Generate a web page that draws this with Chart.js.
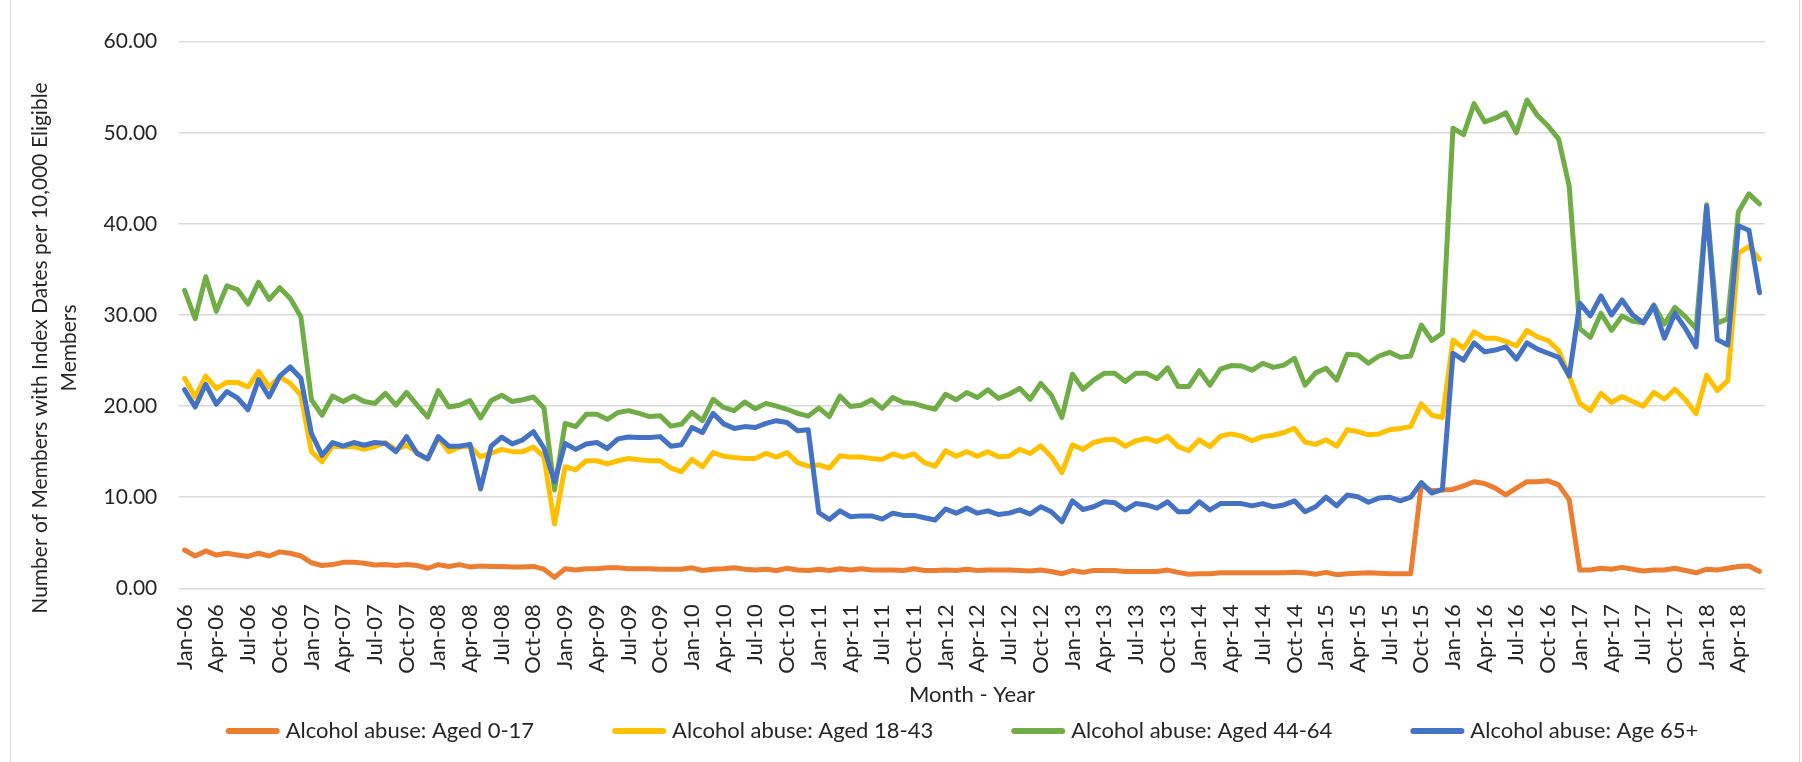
<!DOCTYPE html>
<html>
<head>
<meta charset="utf-8">
<script src="https://cdn.jsdelivr.net/npm/chart.js"></script>
<style>
  body { margin: 0; background: #fff; }
  #wrap { width: 1802px; height: 762px; position: relative; }
</style>
</head>
<body>
<div id="wrap"><canvas id="chart"></canvas></div>
<script>
// month labels Jan-06 .. Jun-18, one category per month
var monthNames = ['Jan', 'Feb', 'Mar', 'Apr', 'May', 'Jun', 'Jul', 'Aug', 'Sep', 'Oct', 'Nov', 'Dec'];
var years = ['06', '07', '08', '09', '10', '11', '12', '13', '14', '15', '16', '17', '18'];
var lastMonthIndex = 5; // Jun-18

var seriesNames = ['Alcohol abuse: Aged 0-17', 'Alcohol abuse: Aged 18-43', 'Alcohol abuse: Aged 44-64', 'Alcohol abuse: Age 65+'];

var aged0to17 = [4.2, 3.55, 4.1, 3.65, 3.85, 3.65, 3.5, 3.85, 3.55, 4.0, 3.85, 3.55,
  2.8, 2.5, 2.6, 2.85, 2.85, 2.75, 2.55, 2.6, 2.5, 2.6, 2.5, 2.2,
  2.6, 2.4, 2.6, 2.35, 2.45, 2.4, 2.4, 2.35, 2.35, 2.4, 2.1, 1.2,
  2.15, 2.0, 2.15, 2.15, 2.25, 2.25, 2.15, 2.15, 2.15, 2.1, 2.1, 2.1,
  2.25, 1.95, 2.1, 2.15, 2.25, 2.1, 2.0, 2.1, 1.95, 2.2, 2.0, 1.95,
  2.1, 1.95, 2.15, 2.0, 2.15, 2.0, 2.0, 2.0, 1.95, 2.15, 1.95, 1.95,
  2.0, 1.95, 2.1, 1.95, 2.0, 2.0, 2.0, 1.95, 1.9, 2.0, 1.85, 1.6,
  1.95, 1.75, 1.95, 1.95, 1.95, 1.85, 1.85, 1.85, 1.85, 2.0, 1.75, 1.55,
  1.6, 1.6, 1.7, 1.7, 1.7, 1.7, 1.7, 1.7, 1.7, 1.75, 1.7, 1.55,
  1.75, 1.5, 1.6, 1.65, 1.7, 1.65, 1.6, 1.6, 1.6, 11.35, 10.7, 10.8,
  10.85, 11.25, 11.7, 11.5, 11.0, 10.25, 11.0, 11.7, 11.7, 11.8, 11.35, 9.7,
  2.0, 2.0, 2.2, 2.1, 2.3, 2.1, 1.9, 2.0, 2.0, 2.2, 1.95, 1.7,
  2.1, 2.0, 2.2, 2.4, 2.45, 1.85];

var aged18to43 = [23.05, 21.0, 23.3, 21.95, 22.6, 22.6, 22.1, 23.8, 22.1, 23.2, 22.5, 21.2,
  15.0, 13.9, 15.6, 15.55, 15.55, 15.25, 15.55, 16.0, 15.2, 15.7, 14.9, 14.2,
  16.5, 15.0, 15.5, 15.6, 14.45, 14.8, 15.25, 15.0, 15.0, 15.5, 14.45, 7.05,
  13.35, 13.0, 14.0, 14.0, 13.65, 14.0, 14.25, 14.1, 14.0, 14.0, 13.2, 12.8,
  14.15, 13.35, 14.9, 14.5, 14.35, 14.25, 14.25, 14.8, 14.4, 14.9, 13.8, 13.4,
  13.55, 13.2, 14.55, 14.4, 14.4, 14.25, 14.15, 14.75, 14.4, 14.75, 13.8, 13.4,
  15.1, 14.5, 15.0, 14.5, 15.0, 14.45, 14.5, 15.25, 14.8, 15.65, 14.45, 12.7,
  15.75, 15.25, 16.0, 16.3, 16.35, 15.6, 16.2, 16.45, 16.1, 16.7, 15.55, 15.1,
  16.3, 15.55, 16.7, 16.95, 16.7, 16.2, 16.65, 16.8, 17.1, 17.55, 16.05, 15.8,
  16.3, 15.6, 17.4, 17.2, 16.85, 16.95, 17.4, 17.55, 17.75, 20.25, 19.0, 18.75,
  27.25, 26.35, 28.15, 27.45, 27.45, 27.1, 26.6, 28.3, 27.6, 27.2, 26.1, 23.3,
  20.3, 19.5, 21.4, 20.4, 21.05, 20.5, 20.0, 21.5, 20.75, 21.85, 20.7, 19.15,
  23.4, 21.7, 22.8, 36.8, 37.5, 36.1];

var aged44to64 = [32.7, 29.6, 34.2, 30.4, 33.2, 32.8, 31.2, 33.6, 31.7, 33.0, 31.8, 29.8,
  20.7, 19.0, 21.1, 20.5, 21.1, 20.5, 20.3, 21.4, 20.1, 21.5, 20.1, 18.8,
  21.7, 19.9, 20.1, 20.6, 18.7, 20.6, 21.2, 20.5, 20.7, 21.0, 19.8, 10.8,
  18.1, 17.75, 19.1, 19.1, 18.55, 19.3, 19.5, 19.2, 18.85, 18.95, 17.8, 18.0,
  19.3, 18.4, 20.75, 19.85, 19.5, 20.45, 19.7, 20.3, 20.0, 19.65, 19.2, 18.9,
  19.8, 18.85, 21.1, 19.95, 20.1, 20.7, 19.75, 20.95, 20.4, 20.3, 19.95, 19.65,
  21.3, 20.7, 21.5, 20.95, 21.8, 20.85, 21.3, 21.95, 20.75, 22.5, 21.2, 18.75,
  23.5, 21.85, 22.85, 23.6, 23.6, 22.7, 23.6, 23.6, 23.0, 24.2, 22.15, 22.15,
  23.9, 22.3, 24.05, 24.45, 24.4, 23.95, 24.7, 24.25, 24.5, 25.25, 22.3, 23.65,
  24.15, 22.85, 25.7, 25.6, 24.7, 25.5, 25.9, 25.35, 25.5, 28.9, 27.2, 28.0,
  50.5, 49.8, 53.2, 51.2, 51.6, 52.2, 50.0, 53.6, 51.9, 50.75, 49.3, 44.1,
  28.5, 27.55, 30.2, 28.3, 29.9, 29.3, 29.15, 31.1, 29.0, 30.85, 29.8, 28.5,
  42.1, 29.1, 29.6, 41.3, 43.3, 42.2];

var age65plus = [21.8, 19.9, 22.4, 20.2, 21.6, 20.9, 19.6, 22.9, 21.0, 23.3, 24.3, 23.05,
  17.0, 14.6, 16.0, 15.6, 16.0, 15.7, 16.0, 15.9, 15.0, 16.65, 14.8, 14.2,
  16.65, 15.6, 15.6, 15.8, 10.9, 15.6, 16.6, 15.85, 16.3, 17.2, 15.4, 11.7,
  15.9, 15.25, 15.85, 16.0, 15.35, 16.4, 16.6, 16.55, 16.55, 16.65, 15.6, 15.75,
  17.65, 17.1, 19.2, 18.05, 17.55, 17.75, 17.65, 18.1, 18.4, 18.2, 17.3, 17.4,
  8.3, 7.55, 8.5, 7.85, 7.95, 7.95, 7.6, 8.25, 8.0, 8.0, 7.75, 7.5,
  8.7, 8.25, 8.8, 8.25, 8.5, 8.1, 8.25, 8.6, 8.15, 8.95, 8.4, 7.3,
  9.6, 8.65, 8.95, 9.5, 9.4, 8.6, 9.3, 9.15, 8.8, 9.5, 8.4, 8.4,
  9.5, 8.6, 9.3, 9.3, 9.3, 9.05, 9.3, 8.95, 9.15, 9.6, 8.4, 8.95,
  10.0, 9.05, 10.25, 10.05, 9.45, 9.9, 10.0, 9.6, 10.0, 11.6, 10.45, 10.85,
  25.8, 25.05, 26.95, 25.95, 26.15, 26.5, 25.15, 26.95, 26.25, 25.8, 25.35, 23.3,
  31.3, 29.9, 32.1, 30.0, 31.65, 30.0, 29.15, 31.0, 27.45, 30.2, 28.5, 26.5,
  41.9, 27.3, 26.7, 39.8, 39.3, 32.45];

var seriesColors = ['#ED7D31', '#FFC000', '#70AD47', '#4472C4'];
var yTicks = [0, 10, 20, 30, 40, 50, 60];
var yTitle = ['Number of Members with Index Dates per 10,000 Eligible', 'Members'];
var xTitle = 'Month - Year';

var months = [];
for (var y = 0; y < years.length; y++) {
  for (var m = 0; m < 12; m++) {
    if (y === years.length - 1 && m > lastMonthIndex) break;
    months.push(monthNames[m] + '-' + years[y]);
  }
}

var textColor = '#262626';
var fontName = 'Lato';

// y title and legend are drawn here so they can sit where Excel put them
var extras = {
  id: 'extras',
  afterDraw: function(chart) {
    var ctx = chart.ctx;
    ctx.save();
    ctx.strokeStyle = '#d9d9d9';
    ctx.lineWidth = 1;
    ctx.beginPath();
    ctx.moveTo(10.5, 0); ctx.lineTo(10.5, 762);
    ctx.moveTo(1799.5, 0); ctx.lineTo(1799.5, 762);
    ctx.stroke();

    ctx.fillStyle = textColor;
    ctx.font = '21px ' + fontName;
    ctx.textAlign = 'center';
    ctx.textBaseline = 'middle';
    ctx.save();
    ctx.translate(40, 348);
    ctx.rotate(-Math.PI / 2);
    ctx.fillText(yTitle[0], 0, 0);
    ctx.fillText(yTitle[1], 0, 29);
    ctx.restore();

    ctx.font = '22px ' + fontName;
    var lineLen = 54, gapText = 6, gapItem = 78;
    var widths = seriesNames.map(function(s) { return lineLen + gapText + ctx.measureText(s).width; });
    var total = widths.reduce(function(a, b) { return a + b; }, 0) + gapItem * (widths.length - 1);
    var x = 962 - total / 2;
    var ly = 731;
    ctx.textAlign = 'left';
    ctx.lineCap = 'round';
    ctx.lineWidth = 6;
    for (var i = 0; i < seriesNames.length; i++) {
      ctx.strokeStyle = seriesColors[i];
      ctx.beginPath();
      ctx.moveTo(x + 3, ly);
      ctx.lineTo(x + lineLen - 3, ly);
      ctx.stroke();
      ctx.fillText(seriesNames[i], x + lineLen + gapText, ly);
      x += widths[i] + gapItem;
    }
    ctx.restore();
  }
};

function makeSet(i, values, order) {
  return {
    label: seriesNames[i],
    data: values,
    borderColor: seriesColors[i],
    backgroundColor: seriesColors[i],
    borderWidth: 5,
    borderJoinStyle: 'round',
    borderCapStyle: 'round',
    pointRadius: 0,
    tension: 0,
    fill: false,
    order: order
  };
}

var ctx = document.getElementById('chart').getContext('2d');
var chart = new Chart(ctx, {
  type: 'line',
  data: {
    labels: months,
    datasets: [
      makeSet(0, aged0to17, 4),
      makeSet(1, aged18to43, 3),
      makeSet(2, aged44to64, 2),
      makeSet(3, age65plus, 1)
    ]
  },
  options: {
    responsive: true,
    maintainAspectRatio: false,
    animation: false,
    layout: { padding: { top: 41.7, right: 30.3, bottom: 52, left: 0 } },
    plugins: {
      legend: { display: false },
      tooltip: { enabled: false }
    },
    scales: {
      x: {
        offset: true,
        grid: { display: false, drawTicks: false },
        border: { display: false },
        ticks: {
          autoSkip: false,
          minRotation: 90,
          maxRotation: 90,
          padding: 16,
          color: textColor,
          font: { family: fontName, size: 22 },
          callback: function(v, idx) { return idx % 3 === 0 ? months[idx] : ''; }
        },
        title: {
          display: true,
          text: xTitle,
          color: textColor,
          font: { family: fontName, size: 22 },
          padding: { top: 0, bottom: 2 }
        },
        afterFit: function(scale) { scale.height = 121.7; }
      },
      y: {
        min: 0,
        max: 60,
        grid: { color: '#d9d9d9', lineWidth: 1.5, drawTicks: false },
        border: { display: false },
        afterBuildTicks: function(scale) {
          scale.ticks = yTicks.map(function(v) { return { value: v }; });
        },
        ticks: {
          padding: 22,
          color: textColor,
          font: { family: fontName, size: 21 },
          callback: function(v) { return v.toFixed(2); }
        },
        afterFit: function(scale) { scale.width = 179.3; }
      }
    }
  },
  plugins: [extras]
});
</script>
</body>
</html>
